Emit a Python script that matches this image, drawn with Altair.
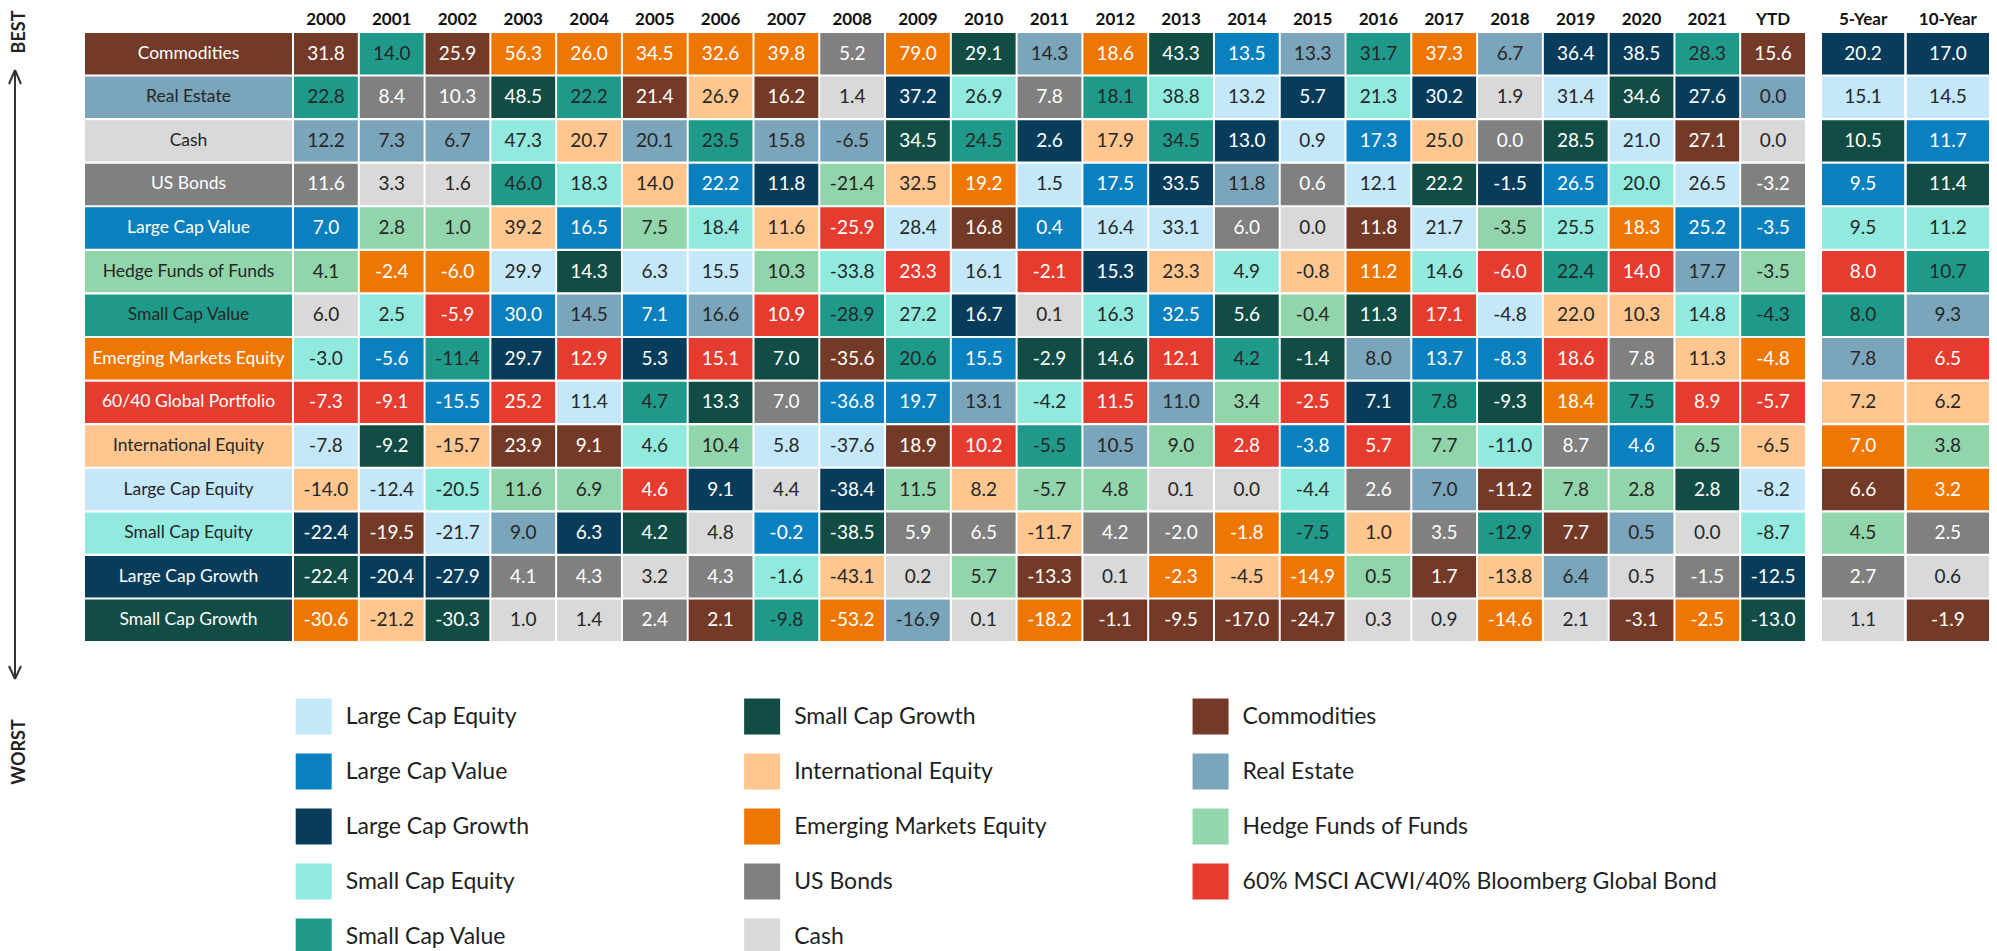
import altair as alt
import pandas as pd

# ---------------- data ----------------
year_cols = ["2000", "2001", "2002", "2003", "2004", "2005", "2006", "2007", "2008",
             "2009", "2010", "2011", "2012", "2013", "2014", "2015", "2016", "2017",
             "2018", "2019", "2020", "2021", "YTD"]
summary_cols = ["5-Year", "10-Year"]

row_labels = ["Commodities", "Real Estate", "Cash", "US Bonds", "Large Cap Value",
              "Hedge Funds of Funds", "Small Cap Value", "Emerging Markets Equity",
              "60/40 Global Portfolio", "International Equity", "Large Cap Equity",
              "Small Cap Equity", "Large Cap Growth", "Small Cap Growth"]
row_label_cls = ["COM", "RE", "CASH", "USB", "LCV", "HF", "SCV", "EM", "GP", "IE",
                 "LCE", "SCE", "LCG", "SCG"]

ret_2000 = [31.8, 22.8, 12.2, 11.6, 7.0, 4.1, 6.0, -3.0, -7.3, -7.8, -14.0, -22.4, -22.4, -30.6]
cls_2000 = "COM SCV RE USB LCV HF CASH SCE GP LCE IE LCG SCG EM".split()
ret_2001 = [14.0, 8.4, 7.3, 3.3, 2.8, -2.4, 2.5, -5.6, -9.1, -9.2, -12.4, -19.5, -20.4, -21.2]
cls_2001 = "SCV USB RE CASH HF EM SCE LCV GP SCG LCE COM LCG IE".split()
ret_2002 = [25.9, 10.3, 6.7, 1.6, 1.0, -6.0, -5.9, -11.4, -15.5, -15.7, -20.5, -21.7, -27.9, -30.3]
cls_2002 = "COM USB RE CASH HF EM GP SCV LCV IE SCE LCE LCG SCG".split()
ret_2003 = [56.3, 48.5, 47.3, 46.0, 39.2, 29.9, 30.0, 29.7, 25.2, 23.9, 11.6, 9.0, 4.1, 1.0]
cls_2003 = "EM SCG SCE SCV IE LCE LCV LCG GP COM HF RE USB CASH".split()
ret_2004 = [26.0, 22.2, 20.7, 18.3, 16.5, 14.3, 14.5, 12.9, 11.4, 9.1, 6.9, 6.3, 4.3, 1.4]
cls_2004 = "EM SCV IE SCE LCV SCG RE GP LCE COM HF LCG USB CASH".split()
ret_2005 = [34.5, 21.4, 20.1, 14.0, 7.5, 6.3, 7.1, 5.3, 4.7, 4.6, 4.6, 4.2, 3.2, 2.4]
cls_2005 = "EM COM RE IE HF LCE LCV LCG SCV SCE GP SCG CASH USB".split()
ret_2006 = [32.6, 26.9, 23.5, 22.2, 18.4, 15.5, 16.6, 15.1, 13.3, 10.4, 9.1, 4.8, 4.3, 2.1]
cls_2006 = "EM IE SCV LCV SCE LCE RE GP SCG HF LCG CASH USB COM".split()
ret_2007 = [39.8, 16.2, 15.8, 11.8, 11.6, 10.3, 10.9, 7.0, 7.0, 5.8, 4.4, -0.2, -1.6, -9.8]
cls_2007 = "EM COM RE LCG IE HF GP SCG USB LCE CASH LCV SCE SCV".split()
ret_2008 = [5.2, 1.4, -6.5, -21.4, -25.9, -33.8, -28.9, -35.6, -36.8, -37.6, -38.4, -38.5, -43.1, -53.2]
cls_2008 = "USB CASH RE HF GP SCE SCV COM LCV LCE LCG SCG IE EM".split()
ret_2009 = [79.0, 37.2, 34.5, 32.5, 28.4, 23.3, 27.2, 20.6, 19.7, 18.9, 11.5, 5.9, 0.2, -16.9]
cls_2009 = "EM LCG SCG IE LCE GP SCE SCV LCV COM HF USB CASH RE".split()
ret_2010 = [29.1, 26.9, 24.5, 19.2, 16.8, 16.1, 16.7, 15.5, 13.1, 10.2, 8.2, 6.5, 5.7, 0.1]
cls_2010 = "SCG SCE SCV EM COM LCE LCG LCV RE GP IE USB HF CASH".split()
ret_2011 = [14.3, 7.8, 2.6, 1.5, 0.4, -2.1, 0.1, -2.9, -4.2, -5.5, -5.7, -11.7, -13.3, -18.2]
cls_2011 = "RE USB LCG LCE LCV GP CASH SCG SCE SCV HF IE COM EM".split()
ret_2012 = [18.6, 18.1, 17.9, 17.5, 16.4, 15.3, 16.3, 14.6, 11.5, 10.5, 4.8, 4.2, 0.1, -1.1]
cls_2012 = "EM SCV IE LCV LCE LCG SCE SCG GP RE HF USB CASH COM".split()
ret_2013 = [43.3, 38.8, 34.5, 33.5, 33.1, 23.3, 32.5, 12.1, 11.0, 9.0, 0.1, -2.0, -2.3, -9.5]
cls_2013 = "SCG SCE SCV LCG LCE IE LCV GP RE HF CASH USB EM COM".split()
ret_2014 = [13.5, 13.2, 13.0, 11.8, 6.0, 4.9, 5.6, 4.2, 3.4, 2.8, 0.0, -1.8, -4.5, -17.0]
cls_2014 = "LCV LCE LCG RE USB SCE SCG SCV HF GP CASH EM IE COM".split()
ret_2015 = [13.3, 5.7, 0.9, 0.6, 0.0, -0.8, -0.4, -1.4, -2.5, -3.8, -4.4, -7.5, -14.9, -24.7]
cls_2015 = "RE LCG LCE USB CASH IE HF SCG GP LCV SCE SCV EM COM".split()
ret_2016 = [31.7, 21.3, 17.3, 12.1, 11.8, 11.2, 11.3, 8.0, 7.1, 5.7, 2.6, 1.0, 0.5, 0.3]
cls_2016 = "SCV SCE LCV LCE COM EM SCG RE LCG GP USB IE HF CASH".split()
ret_2017 = [37.3, 30.2, 25.0, 22.2, 21.7, 14.6, 17.1, 13.7, 7.8, 7.7, 7.0, 3.5, 1.7, 0.9]
cls_2017 = "EM LCG IE SCG LCE SCE GP LCV SCV HF RE USB COM CASH".split()
ret_2018 = [6.7, 1.9, 0.0, -1.5, -3.5, -6.0, -4.8, -8.3, -9.3, -11.0, -11.2, -12.9, -13.8, -14.6]
cls_2018 = "RE CASH USB LCG HF GP LCE LCV SCG SCE COM SCV IE EM".split()
ret_2019 = [36.4, 31.4, 28.5, 26.5, 25.5, 22.4, 22.0, 18.6, 18.4, 8.7, 7.8, 7.7, 6.4, 2.1]
cls_2019 = "LCG LCE SCG LCV SCE SCV IE GP EM USB HF COM RE CASH".split()
ret_2020 = [38.5, 34.6, 21.0, 20.0, 18.3, 14.0, 10.3, 7.8, 7.5, 4.6, 2.8, 0.5, 0.5, -3.1]
cls_2020 = "LCG SCG LCE SCE EM GP IE USB SCV LCV HF RE CASH COM".split()
ret_2021 = [28.3, 27.6, 27.1, 26.5, 25.2, 17.7, 14.8, 11.3, 8.9, 6.5, 2.8, 0.0, -1.5, -2.5]
cls_2021 = "SCV LCG COM LCE LCV RE SCE IE GP HF SCG CASH USB EM".split()
ret_ytd = [15.6, 0.0, 0.0, -3.2, -3.5, -3.5, -4.3, -4.8, -5.7, -6.5, -8.2, -8.7, -12.5, -13.0]
cls_ytd = "COM RE CASH USB LCV HF SCV EM GP IE LCE SCE LCG SCG".split()
ret_5y = [20.2, 15.1, 10.5, 9.5, 9.5, 8.0, 8.0, 7.8, 7.2, 7.0, 6.6, 4.5, 2.7, 1.1]
cls_5y = "LCG LCE SCG LCV SCE GP SCV RE IE EM COM HF USB CASH".split()
ret_10y = [17.0, 14.5, 11.7, 11.4, 11.2, 10.7, 9.3, 6.5, 6.2, 3.8, 3.2, 2.5, 0.6, -1.9]
cls_10y = "LCG LCE LCV SCG SCE SCV RE GP IE HF EM USB CASH COM".split()

class_codes = ["LCE", "LCV", "LCG", "SCE", "SCV", "SCG", "IE", "EM", "USB", "CASH",
               "COM", "RE", "HF", "GP"]
class_names = ["Large Cap Equity", "Large Cap Value", "Large Cap Growth", "Small Cap Equity",
               "Small Cap Value", "Small Cap Growth", "International Equity",
               "Emerging Markets Equity", "US Bonds", "Cash", "Commodities", "Real Estate",
               "Hedge Funds of Funds", "60% MSCI ACWI/40% Bloomberg Global Bond"]
class_colors = ["#C4E8FA", "#0B80BF", "#073D5A", "#91EADD", "#1F9A8A", "#114D44",
                "#FFC68F", "#EE7703", "#808080", "#D9D9D9", "#743A28", "#7BA5BA",
                "#92D5AB", "#E63B2F"]
light_text_codes = ["LCV", "LCG", "SCG", "EM", "USB", "COM", "GP"]

legend_col = [0, 0, 0, 0, 0, 1, 1, 1, 1, 1, 2, 2, 2, 2]
legend_row = [0, 1, 2, 3, 4, 0, 1, 2, 3, 4, 0, 1, 2, 3]

# ---------------- tables ----------------
name_of = dict(zip(class_codes, class_names))

column_series = [
    ("2000", ret_2000, cls_2000), ("2001", ret_2001, cls_2001), ("2002", ret_2002, cls_2002),
    ("2003", ret_2003, cls_2003), ("2004", ret_2004, cls_2004), ("2005", ret_2005, cls_2005),
    ("2006", ret_2006, cls_2006), ("2007", ret_2007, cls_2007), ("2008", ret_2008, cls_2008),
    ("2009", ret_2009, cls_2009), ("2010", ret_2010, cls_2010), ("2011", ret_2011, cls_2011),
    ("2012", ret_2012, cls_2012), ("2013", ret_2013, cls_2013), ("2014", ret_2014, cls_2014),
    ("2015", ret_2015, cls_2015), ("2016", ret_2016, cls_2016), ("2017", ret_2017, cls_2017),
    ("2018", ret_2018, cls_2018), ("2019", ret_2019, cls_2019), ("2020", ret_2020, cls_2020),
    ("2021", ret_2021, cls_2021), ("YTD", ret_ytd, cls_ytd),
    ("5-Year", ret_5y, cls_5y), ("10-Year", ret_10y, cls_10y),
]

records = []
for col, vals, clss in column_series:
    for i, (v, c) in enumerate(zip(vals, clss)):
        records.append({"col": col, "rank": i + 1, "value": v, "asset": name_of[c],
                        "light": c in light_text_codes})
cells = pd.DataFrame(records)
year_df = cells[cells["col"].isin(year_cols)]
summ_df = cells[cells["col"].isin(summary_cols)]

label_df = pd.DataFrame({
    "rank": list(range(1, len(row_labels) + 1)),
    "label": row_labels,
    "asset": [name_of[c] for c in row_label_cls],
    "light": [c in light_text_codes for c in row_label_cls],
    "col": ["label"] * len(row_labels),
})

legend_df = pd.DataFrame({"name": class_names, "lcol": legend_col, "lrow": legend_row})

# ---------------- styling ----------------
FONT = "Lato"
DARK = "#262626"
color_scale = alt.Scale(domain=class_names, range=class_colors)
y_enc = alt.Y("rank:O", title=None, axis=None,
              scale=alt.Scale(paddingInner=0.05, paddingOuter=0))
TABLE_H = 608


def header_axis(label_color="#111111"):
    return alt.Axis(orient="top", labelAngle=0, ticks=False, domain=False, grid=False,
                    labelFont=FONT, labelFontWeight="bold", labelFontSize=17,
                    labelColor=label_color, labelPadding=5)


def cell_panel(df, cols, width):
    base = alt.Chart(df).encode(
        x=alt.X("col:N", title=None,
                scale=alt.Scale(domain=cols, paddingInner=0.03, paddingOuter=0),
                axis=header_axis()),
        y=y_enc,
    )
    rect = base.mark_rect().encode(
        color=alt.Color("asset:N", scale=color_scale, legend=None))
    text = base.transform_calculate(
        txt="replace(format(datum.value, '.1f'), '\u2212', '-')"
    ).mark_text(font=FONT, fontSize=19, baseline="middle").encode(
        text="txt:N",
        color=alt.condition(alt.datum.light, alt.value("white"), alt.value(DARK)))
    return alt.layer(rect, text).properties(width=width, height=TABLE_H)


label_base = alt.Chart(label_df).encode(
    x=alt.X("col:N", title=None, scale=alt.Scale(paddingInner=0, paddingOuter=0),
            axis=None),
    y=y_enc,
)
label_panel = alt.layer(
    label_base.mark_rect().encode(
        color=alt.Color("asset:N", scale=color_scale, legend=None)),
    label_base.mark_text(font=FONT, fontSize=17.5, baseline="middle").encode(
        text="label:N",
        color=alt.condition(alt.datum.light, alt.value("white"), alt.value(DARK))),
).properties(width=207, height=TABLE_H)

years_panel = cell_panel(year_df, year_cols, 1511)
summary_panel = cell_panel(summ_df, summary_cols, 167)

table_row = alt.hconcat(alt.hconcat(label_panel, years_panel, spacing=2),
                        summary_panel, spacing=17)

# legend built from data
leg_base = alt.Chart(legend_df).encode(
    x=alt.X("lcol:Q", axis=None, scale=alt.Scale(domain=[-0.51, 3.0], nice=False, zero=False)),
    y=alt.Y("lrow:O", axis=None, scale=alt.Scale(domain=[0, 1, 2, 3, 4],
                                                 paddingInner=0, paddingOuter=0)),
)
legend_chart = alt.layer(
    leg_base.mark_square(size=1296, opacity=1, filled=True).encode(
        color=alt.Color("name:N", scale=color_scale, legend=None)),
    leg_base.mark_text(align="left", baseline="middle", dx=32, font=FONT, fontSize=23,
                       color="#1f1f1f").encode(text="name:N"),
).properties(width=1574, height=275)

# BEST / WORST arrow (origin of this panel is aligned with the table's top edge)
dummy = pd.DataFrame({"k": [0]})
ARROW = "#333333"
arrow_parts = [
    alt.Chart(dummy).mark_rule(color=ARROW, strokeWidth=2).encode(
        x=alt.value(7), y=alt.value(38), y2=alt.value(645)),
    alt.Chart(dummy).mark_rule(color=ARROW, strokeWidth=2).encode(
        x=alt.value(7), y=alt.value(37), x2=alt.value(1), y2=alt.value(51)),
    alt.Chart(dummy).mark_rule(color=ARROW, strokeWidth=2).encode(
        x=alt.value(7), y=alt.value(37), x2=alt.value(13), y2=alt.value(51)),
    alt.Chart(dummy).mark_rule(color=ARROW, strokeWidth=2).encode(
        x=alt.value(7), y=alt.value(646), x2=alt.value(1), y2=alt.value(633)),
    alt.Chart(dummy).mark_rule(color=ARROW, strokeWidth=2).encode(
        x=alt.value(7), y=alt.value(646), x2=alt.value(13), y2=alt.value(633)),
    alt.Chart(dummy).mark_text(text="BEST", angle=270, font=FONT, fontWeight="bold",
                               fontSize=18, color="#222222", align="center",
                               baseline="middle").encode(x=alt.value(12), y=alt.value(-1)),
    alt.Chart(dummy).mark_text(text="WORST", angle=270, font=FONT, fontWeight="bold",
                               fontSize=18, color="#222222", align="center",
                               baseline="middle").encode(x=alt.value(12), y=alt.value(719)),
]
arrow_panel = alt.layer(*arrow_parts).properties(width=24, height=700)

chart = alt.hconcat(
    arrow_panel,
    alt.vconcat(table_row, legend_chart, spacing=48),
    spacing=53,
).properties(
    padding={"left": 0, "top": 2, "right": 0, "bottom": 0},
    background="white",
).configure_view(stroke=None)

chart.save("out.html", embed_options={"renderer": "svg", "actions": False})
